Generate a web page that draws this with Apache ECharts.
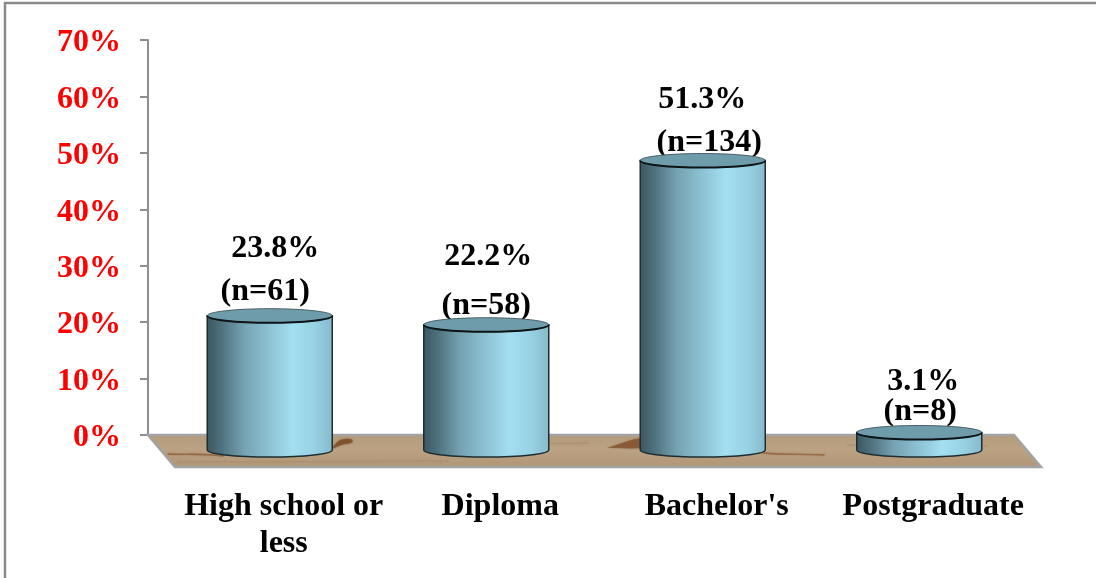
<!DOCTYPE html>
<html>
<head>
<meta charset="utf-8">
<style>
  html, body { margin: 0; padding: 0; background: #fff; }
  #chart { width: 1096px; height: 578px; }
</style>
<script src="https://cdn.jsdelivr.net/npm/echarts@6/dist/echarts.min.js"></script>
</head>
<body>
<div id="chart"></div>
<script>
// Education level of respondents
const categories = ['High school or\nless', 'Diploma', "Bachelor's", 'Postgraduate'];
const percentages = [23.8, 22.2, 51.3, 3.1];
const counts = [61, 58, 134, 8];

// Hand placement of the two label lines, relative to the top of each cylinder
const percentLabelNudge = [[5.5, -67], [2, -68], [-0.5, -61], [4, -51]];
const countLabelNudge = [[-4.5, -24], [0, -19], [6.5, -18], [1, -21]];

// Oblique depth of the floor; cylinders stand halfway into it
const FLOOR_DX = 27, FLOOR_DY = 32;
const STAND_DX = 13.5, STAND_DY = 15;
const RX = 62.5, RY = 7;

const AXIS_GREY = '#8e8e8e';
const SERIF = '"Liberation Serif", "Times New Roman", serif';

const bodyFill = new echarts.graphic.LinearGradient(0, 0, 1, 0, [
  { offset: 0, color: '#3c565f' },
  { offset: 0.12, color: '#4f727e' },
  { offset: 0.3, color: '#76a3b2' },
  { offset: 0.5, color: '#8dc2d4' },
  { offset: 0.68, color: '#a2dff1' },
  { offset: 0.85, color: '#98d2e4' },
  { offset: 1, color: '#85b9ca' }
]);

// Wood floor: parallelogram under the plot, with a few grain marks
function renderFloor(params, api) {
  const cs = params.coordSys;
  const x0 = cs.x, x1 = cs.x + cs.width, y0 = api.coord([0, 0])[1];
  const y1 = y0 + FLOOR_DY;
  const at = (dx, dy) => (x0 + dx) + ' ' + (y0 + dy);
  const grain = (d, color, opacity, width) => ({
    type: 'path',
    shape: { pathData: d },
    style: { fill: 'none', stroke: color, opacity: opacity, lineWidth: width, lineCap: 'round', shadowBlur: 1.5, shadowColor: color }
  });
  const blotch = (d, color, opacity) => ({
    type: 'path',
    shape: { pathData: d },
    style: { fill: color, opacity: opacity, shadowBlur: 2, shadowColor: color }
  });
  return {
    type: 'group',
    children: [
      {
        type: 'polygon',
        shape: { points: [[x0, y0], [x1, y0], [x1 + FLOOR_DX, y1], [x0 + FLOOR_DX, y1]] },
        style: {
          fill: new echarts.graphic.LinearGradient(0, 0, 0, 1, [
            { offset: 0, color: '#b39a7a' },
            { offset: 0.45, color: '#bba283' },
            { offset: 1, color: '#b09676' }
          ]),
          stroke: '#a3a3a3',
          lineWidth: 2.5
        }
      },
      grain('M ' + at(20, 19) + ' C ' + at(35, 20) + ' ' + at(55, 18) + ' ' + at(75, 21), '#8f6039', 0.7, 1.3),
      grain('M ' + at(615, 18) + ' C ' + at(635, 20) + ' ' + at(655, 19) + ' ' + at(676, 20), '#8f6039', 0.65, 1.3),
      grain('M ' + at(30, 27) + ' L ' + at(300, 26), '#a58a68', 0.4, 1.2),
      grain('M ' + at(380, 9) + ' L ' + at(440, 8), '#a58a68', 0.5, 1.2),
      grain('M ' + at(700, 10) + ' L ' + at(840, 11), '#a98e6f', 0.4, 1.4),
      blotch('M ' + at(184, 14) + ' C ' + at(188, 7) + ' ' + at(192, 3) + ' ' + at(202, 4) + ' C ' + at(207, 5) + ' ' + at(205, 9) + ' ' + at(197, 9) + ' C ' + at(192, 10) + ' ' + at(188, 12) + ' ' + at(184, 14) + ' Z', '#7f4f2a', 0.8),
      blotch('M ' + at(459, 13) + ' C ' + at(470, 10) + ' ' + at(482, 4) + ' ' + at(495, 3) + ' L ' + at(495, 13) + ' C ' + at(482, 14) + ' ' + at(470, 13) + ' ' + at(459, 13) + ' Z', '#84532d', 0.7)
    ]
  };
}

// One cylinder per category, standing on the floor and topped by its two labels
function renderCylinder(params, api) {
  const i = api.value(0);
  const v = api.value(1);
  const base = api.coord([i, 0]);
  const top = api.coord([i, v]);
  const cx = base[0] + STAND_DX;
  const yb = base[1] + STAND_DY;
  const yt = top[1] + STAND_DY;
  const textStyle = (text, nudge) => ({
    type: 'text',
    style: {
      text: text,
      x: cx + nudge[0],
      y: yt + nudge[1],
      align: 'center',
      verticalAlign: 'middle',
      fill: '#000',
      font: 'bold 32px ' + SERIF
    }
  });
  return {
    type: 'group',
    children: [
      textStyle(percentages[i].toFixed(1) + '%', percentLabelNudge[i]),
      textStyle('(n=' + counts[i] + ')', countLabelNudge[i]),
      {
        type: 'path',
        shape: {
          pathData:
            'M ' + (cx - RX) + ' ' + yt +
            ' L ' + (cx - RX) + ' ' + yb +
            ' A ' + RX + ' ' + RY + ' 0 0 0 ' + (cx + RX) + ' ' + yb +
            ' L ' + (cx + RX) + ' ' + yt + ' Z'
        },
        style: { fill: bodyFill, stroke: '#1e2d32', lineWidth: 1.5 }
      },
      {
        type: 'ellipse',
        shape: { cx: cx, cy: yt, rx: RX, ry: RY },
        style: { fill: '#6f9cab', stroke: '#4a5f66', lineWidth: 1 }
      },
      {
        type: 'path',
        shape: {
          pathData: 'M ' + (cx - RX) + ' ' + yt + ' A ' + RX + ' ' + RY + ' 0 0 0 ' + (cx + RX) + ' ' + yt
        },
        style: { fill: 'none', stroke: '#0c1416', lineWidth: 2 }
      }
    ]
  };
}

const chart = echarts.init(document.getElementById('chart'), null, { renderer: 'canvas' });
chart.setOption({
  animation: false,
  backgroundColor: '#fff',
  grid: { left: 148, right: 82, top: 40, bottom: 143, containLabel: false },
  graphic: [{
    type: 'polyline',
    silent: true,
    shape: { points: [[5, 578], [5, 3], [1096, 3]] },
    style: { fill: 'none', stroke: '#8a8a8a', lineWidth: 2.5 }
  }],
  xAxis: {
    type: 'category',
    data: categories,
    boundaryGap: true,
    axisLine: { show: false },
    axisTick: { show: false },
    splitLine: { show: false },
    axisLabel: {
      interval: 0,
      margin: 53,
      padding: [0, 0, 0, 55],
      color: '#000',
      fontFamily: SERIF,
      fontWeight: 'bold',
      fontSize: 32,
      lineHeight: 37,
      align: 'center'
    }
  },
  yAxis: {
    type: 'value',
    min: 0,
    max: 70,
    interval: 10,
    splitLine: { show: false },
    axisLine: { show: true, lineStyle: { color: AXIS_GREY, width: 2 } },
    axisTick: { show: true, length: 8, lineStyle: { color: AXIS_GREY, width: 2 } },
    axisLabel: {
      margin: 27,
      verticalAlign: 'top',
      lineHeight: 6,
      formatter: '{value}%',
      color: '#ff0000',
      fontFamily: SERIF,
      fontWeight: 'bold',
      fontSize: 32
    }
  },
  series: [
    {
      type: 'custom',
      name: 'Floor',
      coordinateSystem: 'cartesian2d',
      clip: false,
      silent: true,
      z: 1,
      data: [[0, 0]],
      renderItem: renderFloor
    },
    {
      type: 'custom',
      name: 'Respondents',
      coordinateSystem: 'cartesian2d',
      clip: false,
      z: 3,
      data: percentages.map((v, i) => [i, v]),
      encode: { x: 0, y: 1 },
      renderItem: renderCylinder
    }
  ]
});
</script>
</body>
</html>
